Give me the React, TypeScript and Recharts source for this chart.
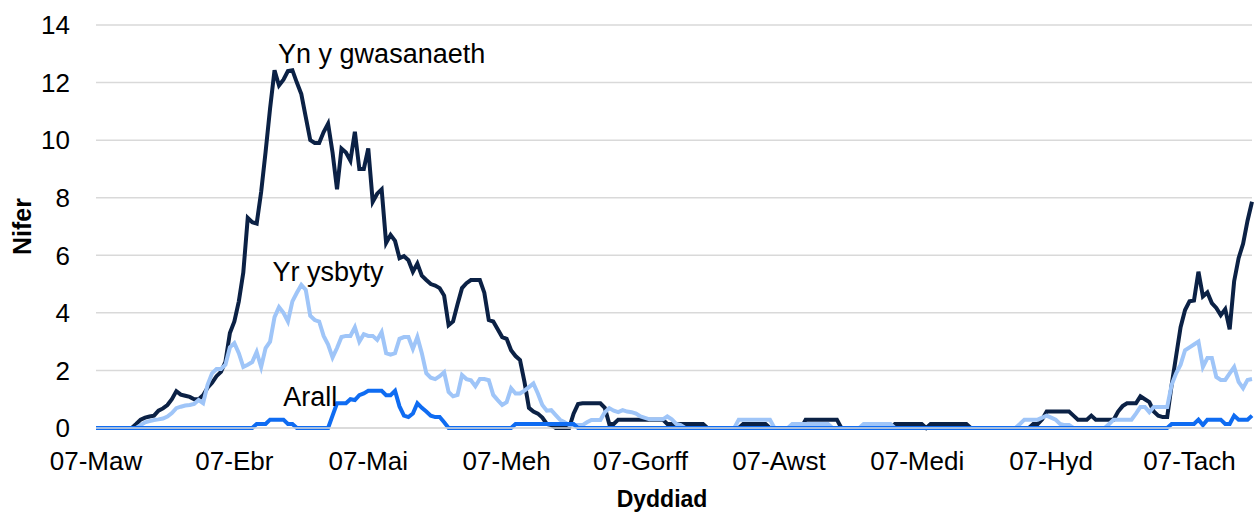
import { LineChart, Line, XAxis, YAxis, CartesianGrid, ReferenceDot } from "recharts";

// Welsh month abbreviations, one row per day starting 07 March
const MONTHS = ["Ion", "Chwef", "Maw", "Ebr", "Mai", "Meh", "Gorff", "Awst", "Medi", "Hyd", "Tach", "Rhag"];
const START = Date.UTC(2020, 2, 7);

const TICKS = ["07-Maw", "07-Ebr", "07-Mai", "07-Meh", "07-Gorff", "07-Awst", "07-Medi", "07-Hyd", "07-Tach"];
const Y_TICKS = [0, 2, 4, 6, 8, 10, 12, 14];

// Yn y gwasanaeth
const IN_SERVICE = [
  0, 0, 0, 0, 0, 0, 0, 0, 0, 0.14,
  0.29, 0.36, 0.4, 0.43, 0.6, 0.68, 0.8, 1.0, 1.28, 1.16,
  1.12, 1.08, 1.0, 1.0, 1.14, 1.4, 1.57, 1.8, 1.95, 2.3,
  3.3, 3.7, 4.4, 5.4, 7.3, 7.15, 7.1, 8.2, 9.6, 11.1,
  12.43, 11.9, 12.1, 12.4, 12.43, 12.0, 11.6, 10.8, 10.0, 9.9,
  9.9, 10.28, 10.57, 9.57, 8.29, 9.71, 9.57, 9.29, 10.29, 9.0,
  9.0, 9.71, 7.86, 8.14, 8.29, 6.43, 6.71, 6.5, 5.9, 5.97,
  5.83, 5.43, 5.71, 5.29, 5.14, 5.0, 4.95, 4.86, 4.6, 3.57,
  3.7, 4.3, 4.86, 5.03, 5.14, 5.14, 5.14, 4.7, 3.75, 3.7,
  3.43, 3.16, 3.1, 2.7, 2.5, 2.36, 1.6, 0.7, 0.57, 0.5,
  0.36, 0.14, 0.1, 0, 0, 0, 0, 0.5, 0.83, 0.86,
  0.86, 0.86, 0.86, 0.86, 0.7, 0.14, 0.14, 0.29, 0.29, 0.29,
  0.29, 0.29, 0.29, 0.29, 0.29, 0.29, 0.29, 0.29, 0.14, 0.14,
  0.14, 0.14, 0.14, 0.14, 0.14, 0.14, 0.14, 0, 0, 0,
  0, 0, 0, 0, 0, 0.14, 0.14, 0.14, 0.14, 0.14,
  0.14, 0, 0, 0, 0, 0, 0, 0, 0, 0.29,
  0.29, 0.29, 0.29, 0.29, 0.29, 0.29, 0.29, 0, 0, 0,
  0, 0, 0, 0, 0, 0, 0, 0, 0, 0.14,
  0.14, 0.14, 0.14, 0.14, 0.14, 0.14, 0, 0.14, 0.14, 0.14,
  0.14, 0.14, 0.14, 0.14, 0.14, 0.14, 0, 0, 0, 0,
  0, 0, 0, 0, 0, 0, 0, 0, 0, 0,
  0.14, 0.14, 0.3, 0.57, 0.57, 0.57, 0.57, 0.57, 0.57, 0.43,
  0.29, 0.29, 0.29, 0.43, 0.29, 0.29, 0.29, 0.29, 0.29, 0.57,
  0.76, 0.86, 0.86, 0.86, 1.1, 1.0, 0.9, 0.57, 0.43, 0.38,
  0.38, 1.5, 2.5, 3.5, 4.1, 4.4, 4.43, 5.43, 4.57, 4.71,
  4.34, 4.17, 3.92, 4.13, 3.43, 5.1, 5.9, 6.4, 7.2, 7.86,
];

// Yr ysbyty
const HOSPITAL = [
  0, 0, 0, 0, 0, 0, 0, 0, 0, 0,
  0.1, 0.2, 0.24, 0.28, 0.3, 0.33, 0.4, 0.52, 0.69, 0.74,
  0.78, 0.8, 0.84, 0.97, 0.86, 1.5, 1.9, 2.05, 2.05, 2.2,
  2.8, 2.95, 2.6, 2.12, 2.2, 2.29, 2.64, 2.12, 2.78, 3.0,
  3.85, 4.2, 4.0, 3.7, 4.4, 4.7, 4.97, 4.8, 3.9, 3.75,
  3.7, 3.2, 2.9, 2.45, 2.78, 3.16, 3.2, 3.2, 3.5, 3.0,
  3.26, 3.2, 3.2, 3.06, 3.33, 2.6, 2.55, 2.6, 3.1, 3.16,
  3.16, 2.75, 3.16, 2.6, 1.9, 1.75, 1.7, 1.8, 1.94, 1.25,
  1.1, 1.15, 1.84, 1.7, 1.66, 1.45, 1.7, 1.7, 1.66, 1.15,
  0.97, 0.8, 0.9, 1.38, 1.2, 1.2, 1.3, 1.42, 1.55, 1.2,
  0.8, 0.6, 0.62, 0.45, 0.28, 0.2, 0.1, 0.1, 0.1, 0.1,
  0.2, 0.28, 0.28, 0.28, 0.55, 0.69, 0.6, 0.55, 0.62, 0.57,
  0.55, 0.5, 0.4, 0.35, 0.3, 0.3, 0.3, 0.3, 0.4, 0.3,
  0.14, 0.1, 0, 0, 0, 0, 0, 0, 0, 0,
  0, 0, 0, 0, 0.29, 0.29, 0.29, 0.29, 0.29, 0.29,
  0.29, 0.29, 0, 0, 0, 0, 0.14, 0.14, 0.14, 0.14,
  0.14, 0.14, 0.14, 0.14, 0.14, 0, 0, 0, 0, 0,
  0, 0, 0.14, 0.14, 0.14, 0.14, 0.14, 0.14, 0.14, 0,
  0, 0, 0, 0, 0, 0, 0, 0, 0, 0,
  0, 0, 0, 0, 0, 0, 0, 0, 0, 0,
  0, 0, 0, 0, 0, 0, 0, 0.14, 0.29, 0.29,
  0.29, 0.29, 0.36, 0.43, 0.36, 0.29, 0.14, 0.1, 0.1, 0,
  0, 0, 0, 0, 0, 0, 0, 0.14, 0.29, 0.29,
  0.29, 0.29, 0.29, 0.5, 0.73, 0.73, 0.55, 0.73, 0.73, 0.73,
  0.73, 1.5, 1.9, 2.2, 2.7, 2.8, 2.9, 3.0, 2.12, 2.43,
  2.43, 1.77, 1.67, 1.67, 1.9, 2.12, 1.6, 1.38, 1.67, 1.7,
];

// Arall
const OTHER = [
  0, 0, 0, 0, 0, 0, 0, 0, 0, 0,
  0, 0, 0, 0, 0, 0, 0, 0, 0, 0,
  0, 0, 0, 0, 0, 0, 0, 0, 0, 0,
  0, 0, 0, 0, 0, 0, 0.14, 0.14, 0.14, 0.29,
  0.29, 0.29, 0.29, 0.14, 0.14, 0, 0, 0, 0, 0,
  0, 0, 0, 0.43, 0.86, 0.86, 0.86, 1.0, 0.97, 1.14,
  1.2, 1.29, 1.29, 1.29, 1.29, 1.14, 1.14, 1.29, 0.75, 0.43,
  0.38, 0.5, 0.86, 0.7, 0.57, 0.43, 0.38, 0.38, 0.2, 0,
  0, 0, 0, 0, 0, 0, 0, 0, 0, 0,
  0, 0, 0, 0, 0.14, 0.14, 0.14, 0.14, 0.14, 0.14,
  0.14, 0.14, 0.14, 0.14, 0.14, 0.14, 0.14, 0.14, 0, 0,
  0, 0, 0, 0, 0, 0, 0, 0, 0, 0,
  0, 0, 0, 0, 0, 0, 0, 0, 0, 0,
  0, 0, 0, 0, 0, 0, 0, 0, 0, 0,
  0, 0, 0, 0, 0, 0, 0, 0, 0, 0,
  0, 0, 0, 0, 0, 0, 0, 0, 0, 0,
  0, 0, 0, 0, 0, 0, 0, 0, 0, 0,
  0, 0, 0, 0, 0, 0, 0, 0, 0, 0,
  0, 0, 0, 0, 0, 0, 0, 0, 0, 0,
  0, 0, 0, 0, 0, 0, 0, 0, 0, 0,
  0, 0, 0, 0, 0, 0, 0, 0, 0, 0,
  0, 0, 0, 0, 0, 0, 0, 0, 0, 0,
  0, 0, 0, 0, 0, 0, 0, 0, 0, 0,
  0, 0, 0, 0, 0, 0, 0, 0, 0, 0,
  0, 0.14, 0.14, 0.14, 0.14, 0.14, 0.14, 0.29, 0.1, 0.29,
  0.29, 0.29, 0.29, 0.14, 0.14, 0.43, 0.29, 0.29, 0.29, 0.43,
];

const DATES = IN_SERVICE.map((_, i) => {
  const d = new Date(START + i * 86400000);
  return `${String(d.getUTCDate()).padStart(2, "0")}-${MONTHS[d.getUTCMonth()]}`;
});

const data = DATES.map((date, i) => ({
  date,
  inService: IN_SERVICE[i],
  hospital: HOSPITAL[i],
  other: OTHER[i],
}));

const DARK = "#0b2145";
const LIGHT = "#9fc5f8";
const BRIGHT = "#0f6cf2";

function YTitle({ viewBox }: any) {
  const x = viewBox.x + 22;
  const y = viewBox.y + viewBox.height / 2;
  return (
    <text x={x} y={y} transform={`rotate(-90 ${x} ${y})`} textAnchor="middle" dominantBaseline="central"
      fontSize={25} fontWeight={700} fill="#000">
      Nifer
    </text>
  );
}

function XTitle({ viewBox }: any) {
  return (
    <text x={viewBox.x + viewBox.width / 2 - 12} y={viewBox.y + viewBox.height - 7} textAnchor="middle"
      fontSize={23} fontWeight={700} fill="#000">
      Dyddiad
    </text>
  );
}

export default function App() {
  return (
    <div style={{ width: 1255, height: 514, fontFamily: "'Liberation Sans', Arial, sans-serif" }}>
      <style>{"body{margin:0}"}</style>
      <LineChart width={1255} height={514} data={data} margin={{ top: 25, right: 3, left: 0, bottom: 0 }}>
        <CartesianGrid vertical={false} stroke="#d9d9d9" strokeWidth={1.5} />
        <XAxis dataKey="date" ticks={TICKS} interval={0} height={86} tickLine={false}
          axisLine={{ stroke: "#d9d9d9", strokeWidth: 1.5 }} tickSize={0} tickMargin={24}
          tick={{ fontSize: 26, fill: "#000" }} label={<XTitle />} />
        <YAxis domain={[0, 14]} ticks={Y_TICKS} width={96} axisLine={false} tickLine={false}
          tickSize={0} tickMargin={26} tick={{ fontSize: 26, fill: "#000" }} label={<YTitle />} />
        <Line type="linear" dataKey="inService" stroke={DARK} strokeWidth={4} dot={false} isAnimationActive={false} />
        <Line type="linear" dataKey="hospital" stroke={LIGHT} strokeWidth={4} dot={false} isAnimationActive={false} />
        <Line type="linear" dataKey="other" stroke={BRIGHT} strokeWidth={4} dot={false} isAnimationActive={false} />
        <ReferenceDot x={DATES[64]} y={13.0} r={0} fill="none" stroke="none"
          label={{ value: "Yn y gwasanaeth", position: "center", fontSize: 27, fill: "#000" }} />
        <ReferenceDot x={DATES[52]} y={5.45} r={0} fill="none" stroke="none"
          label={{ value: "Yr ysbyty", position: "center", fontSize: 27, fill: "#000" }} />
        <ReferenceDot x={DATES[48]} y={1.1} r={0} fill="none" stroke="none"
          label={{ value: "Arall", position: "center", fontSize: 27, fill: "#000" }} />
      </LineChart>
    </div>
  );
}
